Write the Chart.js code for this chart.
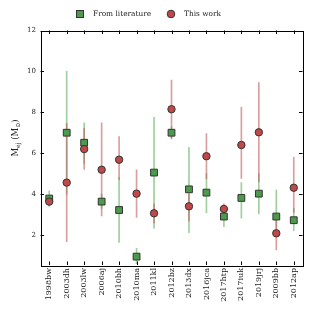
<!DOCTYPE html>
<html><head><meta charset="utf-8">
<script src="https://cdn.jsdelivr.net/npm/chart.js@4/dist/chart.umd.min.js"></script>
<style>html,body{margin:0;padding:0;background:#fff}canvas{display:block}</style>
</head><body>
<canvas id="c" width="312" height="312"></canvas>
<script>
const labels = ['1998bw','2003dh','2003lw','2006aj','2010bh','2010ma','2011kl','2012bz','2013dx','2016jca','2017htp','2017iuk','2019jrj','2009bb','2012ap'];
const litVal = [3.78, 7.0, 6.51, 3.63, 3.22, 0.94, 5.05, 7.0, 4.23, 4.07, 2.9, 3.81, 4.02, 2.9, 2.72];
const litLo  = [3.40, 4.0, 5.50, 3.30, 1.63, 0.60, 2.33, 6.7, 2.11, 3.09, 2.41, 2.82, 3.03, 2.3, 2.21];
const litHi  = [4.15, 10.0, 7.49, 4.00, 4.80, 1.35, 7.75, 7.3, 6.29, 5.00, 3.40, 4.56, 5.00, 4.2, 3.30];
const thisVal = [3.63, 4.56, 6.20, 5.19, 5.68, 4.02, 3.06, 8.15, 3.40, 5.85, 3.27, 6.40, 7.02, 2.08, 4.31];
const thisLo  = [3.45, 1.67, 5.21, 2.93, 4.70, 2.86, 2.57, 6.73, 2.67, 4.75, 3.05, 4.77, 4.60, 1.27, 3.10];
const thisHi  = [3.80, 7.46, 7.22, 7.49, 6.81, 5.18, 3.52, 9.58, 4.00, 6.96, 3.52, 8.24, 9.45, 2.75, 5.80];
const yTicks = [2, 4, 6, 8, 10, 12];
const legendNames = ['From literature', 'This work'];

const FONT = "'DejaVu Serif', serif";
const GREEN = '#4c9b4c', RED = '#c24848', EDGE = '#333333';

const framePlugin = {
  id: 'frame',
  afterDraw(chart) {
    const {ctx, chartArea: a, scales} = chart;
    ctx.save();
    ctx.strokeStyle = '#000';
    ctx.lineWidth = 1;
    ctx.strokeRect(Math.round(a.left) + 0.5, Math.round(a.top) + 0.5, Math.round(a.right - a.left), Math.round(a.bottom - a.top));
    const L = 3.5;
    ctx.beginPath();
    labels.forEach((_, i) => {
      const px = Math.round(scales.x.getPixelForValue(i)) + 0.5;
      ctx.moveTo(px, a.bottom); ctx.lineTo(px, a.bottom - L);
      ctx.moveTo(px, a.top); ctx.lineTo(px, a.top + L);
    });
    yTicks.forEach(v => {
      const py = Math.round(scales.y.getPixelForValue(v)) + 0.5;
      ctx.moveTo(a.left, py); ctx.lineTo(a.left + L, py);
      ctx.moveTo(a.right, py); ctx.lineTo(a.right - L, py);
    });
    ctx.stroke();

    // y title with subscripts
    ctx.fillStyle = '#222';
    ctx.textBaseline = 'alphabetic';
    const parts = [['M', 8.5, 0], ['ej', 6, 2], [' (M', 8.5, 0], ['\u2299', 6, 2], [')', 8.5, 0]];
    let total = 0;
    parts.forEach(p => { ctx.font = p[1] + 'px ' + FONT; total += ctx.measureText(p[0]).width; });
    ctx.translate(18, 138);
    ctx.rotate(-Math.PI / 2);
    let x = -total / 2;
    parts.forEach(p => {
      ctx.font = p[1] + 'px ' + FONT;
      ctx.fillText(p[0], x, p[2]);
      x += ctx.measureText(p[0]).width;
    });
    ctx.restore();

    // legend
    ctx.save();
    ctx.lineWidth = 1;
    ctx.strokeStyle = EDGE;
    ctx.fillStyle = GREEN;
    ctx.fillRect(76.5, 10.5, 7, 7); ctx.strokeRect(76.5, 10.5, 7, 7);
    ctx.fillStyle = RED;
    ctx.beginPath(); ctx.arc(171, 14, 3.8, 0, Math.PI * 2); ctx.fill(); ctx.stroke();
    ctx.fillStyle = '#222';
    ctx.font = '7.4px ' + FONT;
    ctx.textBaseline = 'middle';
    ctx.fillText(legendNames[0], 93, 14);
    ctx.fillText(legendNames[1], 184, 14);
    ctx.restore();
  }
};

new Chart(document.getElementById('c'), {
  type: 'bar',
  data: {
    labels: labels,
    datasets: [
      {type: 'line', label: legendNames[0], data: litVal, showLine: false, pointStyle: 'rect',
       pointRadius: 4.8, pointBackgroundColor: GREEN, pointBorderColor: EDGE, pointBorderWidth: 1, order: 2},
      {type: 'line', label: legendNames[1], data: thisVal, showLine: false, pointStyle: 'circle',
       pointRadius: 3.7, pointBackgroundColor: RED, pointBorderColor: EDGE, pointBorderWidth: 1, order: 1},
      {type: 'bar', label: 'litErr', data: labels.map((_, i) => [litLo[i], litHi[i]]),
       backgroundColor: 'rgba(95,175,95,0.6)', borderWidth: 0, barThickness: 1, grouped: false, order: 4},
      {type: 'bar', label: 'thisErr', data: labels.map((_, i) => [thisLo[i], thisHi[i]]),
       backgroundColor: 'rgba(190,95,95,0.6)', borderWidth: 0, barThickness: 1, grouped: false, order: 3}
    ]
  },
  options: {
    responsive: false,
    animation: false,
    events: [],
    layout: {padding: {top: 30.5, right: 9.5, left: 0, bottom: 0}},
    plugins: {legend: {display: false}, tooltip: {enabled: false}},
    scales: {
      x: {
        type: 'category', offset: true,
        grid: {display: false, drawTicks: false}, border: {display: false},
        ticks: {maxRotation: 90, minRotation: 90, autoSkip: false, padding: 3,
                color: '#222', font: {family: FONT, size: 8}},
        afterFit(s) { s.height = 47; }
      },
      y: {
        min: 0.53, max: 12,
        grid: {display: false, drawTicks: false}, border: {display: false},
        afterBuildTicks(s) { s.ticks = yTicks.map(v => ({value: v})); },
        ticks: {padding: 4.5, color: '#222', font: {family: FONT, size: 7}},
        afterFit(s) { s.width = 40.5; }
      }
    }
  },
  plugins: [framePlugin]
});
</script>
</body></html>
